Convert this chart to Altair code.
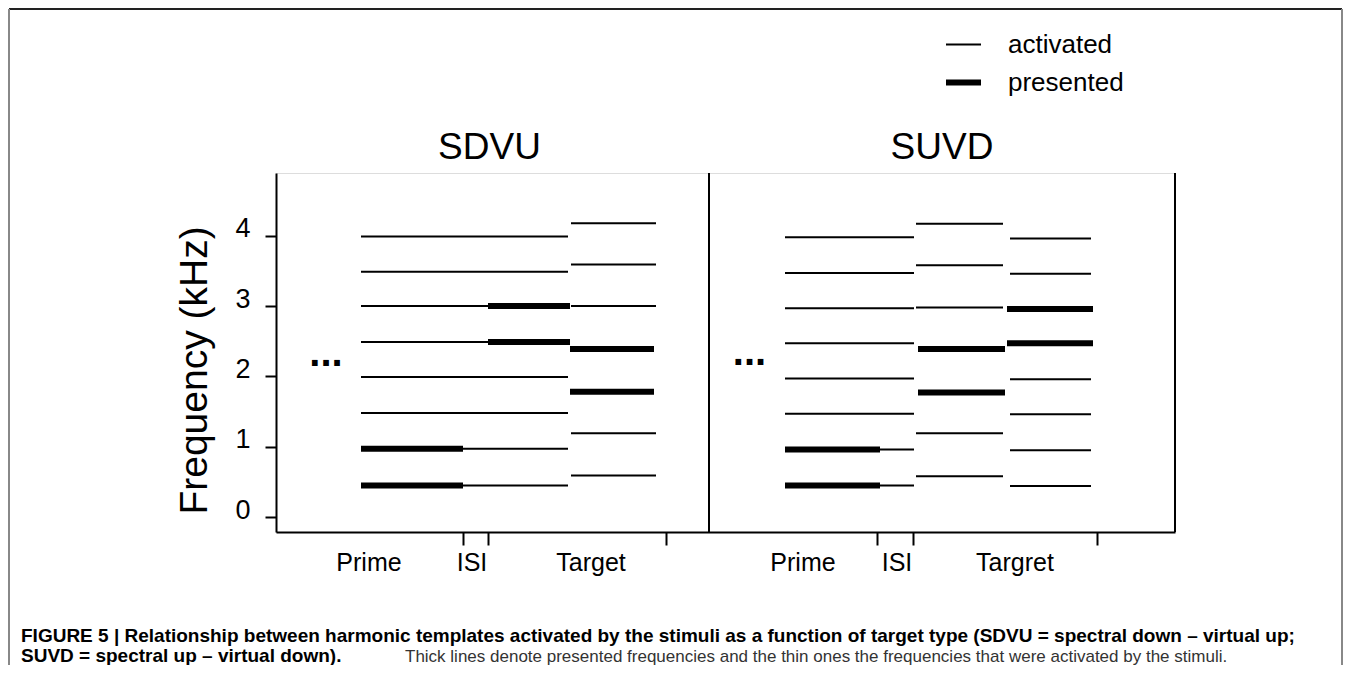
import altair as alt
import pandas as pd

FONT = "Liberation Sans"

# ---- frequency values (kHz) ----
FREQ_TICKS = [0, 1, 2, 3, 4]

# SDVU panel
L_PRIME = [0.45, 0.97, 1.48, 1.99, 2.49, 3.00, 3.49, 3.99]
L_PRIME_PRESENTED = [0.45, 0.97]
L_LATE_PRESENTED = [2.49, 3.00]
L_TARGET = [0.59, 1.19, 1.78, 2.39, 3.00, 3.59, 4.18]
L_TARGET_PRESENTED = [1.78, 2.39]

# SUVD panel
R_PRIME = [0.45, 0.96, 1.47, 1.97, 2.47, 2.97, 3.47, 3.98]
R_PRIME_PRESENTED = [0.45, 0.96]
R_MID = [0.58, 1.19, 1.77, 2.39, 2.98, 3.58, 4.17]
R_MID_PRESENTED = [1.77, 2.39]
R_TARGET = [0.44, 0.95, 1.46, 1.96, 2.47, 2.96, 3.46, 3.96]
R_TARGET_PRESENTED = [2.47, 2.96]

# ---- time positions (arbitrary schematic units) ----
L_PRIME_T = [340, 748, 848, 1168]     # onset, prime offset, ISI offset, template offset
L_LATE_T = [848, 1176]
L_TARGET_THIN_T = [1180, 1520]
L_TARGET_THICK_T = [1176, 1512]
R_PRIME_T = [2036, 2416, 2552]
R_MID_THIN_T = [2560, 2908]
R_MID_THICK_T = [2568, 2916]
R_TARGET_THIN_T = [2936, 3260]
R_TARGET_THICK_T = [2924, 3268]

X_DOMAIN = [0, 3596]
Y_DOMAIN = [-0.213, 4.893]
PANEL_BORDERS = [1732, 3596]
PHASE_TICKS = [748, 848, 1560, 2404, 2548, 3284]
PHASE_LABELS = ["Prime", "ISI", "Target", "Prime", "ISI", "Targret"]
PHASE_LABEL_T = [372, 784, 1260, 2108, 2484, 2956]
PANEL_TITLES = ["SDVU", "SUVD"]
PANEL_TITLE_T = [854, 2664]
DOTS_T = [200, 1894]
DOTS_F = [2.155, 2.165]

KINDS = ["activated", "presented"]

rows = []


def seg(f, a, b, kind):
    rows.append({"t0": a, "t1": b, "f": f, "kind": kind})


for f in L_PRIME:
    if f in L_PRIME_PRESENTED:
        seg(f, L_PRIME_T[0], L_PRIME_T[1], "presented")
        seg(f, L_PRIME_T[1], L_PRIME_T[3], "activated")
    elif f in L_LATE_PRESENTED:
        seg(f, L_PRIME_T[0], L_PRIME_T[2], "activated")
        seg(f, L_LATE_T[0], L_LATE_T[1], "presented")
    else:
        seg(f, L_PRIME_T[0], L_PRIME_T[3], "activated")
for f in L_TARGET:
    if f in L_TARGET_PRESENTED:
        seg(f, L_TARGET_THICK_T[0], L_TARGET_THICK_T[1], "presented")
    else:
        seg(f, L_TARGET_THIN_T[0], L_TARGET_THIN_T[1], "activated")
for f in R_PRIME:
    if f in R_PRIME_PRESENTED:
        seg(f, R_PRIME_T[0], R_PRIME_T[1], "presented")
        seg(f, R_PRIME_T[1], R_PRIME_T[2], "activated")
    else:
        seg(f, R_PRIME_T[0], R_PRIME_T[2], "activated")
for f in R_MID:
    if f in R_MID_PRESENTED:
        seg(f, R_MID_THICK_T[0], R_MID_THICK_T[1], "presented")
    else:
        seg(f, R_MID_THIN_T[0], R_MID_THIN_T[1], "activated")
for f in R_TARGET:
    if f in R_TARGET_PRESENTED:
        seg(f, R_TARGET_THICK_T[0], R_TARGET_THICK_T[1], "presented")
    else:
        seg(f, R_TARGET_THIN_T[0], R_TARGET_THIN_T[1], "activated")

seg_df = pd.DataFrame(rows)

xscale = alt.Scale(domain=X_DOMAIN, nice=False, zero=False)
yscale = alt.Scale(domain=Y_DOMAIN, nice=False, zero=False)

W, H = 899, 359

lines = alt.Chart(seg_df).mark_rule(color="black", strokeCap="butt").encode(
    x=alt.X("t0:Q", scale=xscale, axis=alt.Axis(
        values=PHASE_TICKS, labels=False, grid=False, tickSize=13, tickWidth=2,
        tickColor="black", domainColor="black", domainWidth=2, titleOpacity=0)),
    x2="t1:Q",
    y=alt.Y("f:Q", scale=yscale, axis=alt.Axis(
        values=FREQ_TICKS, format="d", grid=False, tickSize=11, tickWidth=2,
        tickColor="black", domainColor="black", domainWidth=2, labelFont=FONT,
        labelFontSize=27, labelColor="black", labelPadding=15,
        labelBaseline="alphabetic", labelOffset=1, title="Frequency (kHz)",
        titleFont=FONT, titleFontSize=39, titleFontWeight="normal",
        titleColor="black", titleAngle=270, titleX=-70, titleY=197,
        titleBaseline="alphabetic", titleAlign="center")),
    strokeWidth=alt.StrokeWidth("kind:O", scale=alt.Scale(domain=KINDS, range=[2, 6]),
        title=None,
        legend=alt.Legend(orient="none", legendX=667, legendY=-147, symbolType="stroke",
                          symbolSize=1225, symbolStrokeColor="black", labelFont=FONT,
                          labelFontSize=26, labelColor="black", labelOffset=24,
                          rowPadding=4, padding=0)),
)

borders = alt.Chart(pd.DataFrame({"t0": PANEL_BORDERS})).mark_rule(
    color="black", strokeWidth=2).encode(
    x="t0:Q", y=alt.value(0), y2=alt.value(H))

phase = alt.Chart(pd.DataFrame({"t0": PHASE_LABEL_T, "label": PHASE_LABELS})).mark_text(
    font=FONT, fontSize=25, color="black", baseline="alphabetic", align="center").encode(
    x="t0:Q", y=alt.value(398), text="label:N")

titles = alt.Chart(pd.DataFrame({"t0": PANEL_TITLE_T, "label": PANEL_TITLES})).mark_text(
    font=FONT, fontSize=37, color="black", baseline="alphabetic", align="center").encode(
    x="t0:Q", y=alt.value(-14), text="label:N")

dots = alt.Chart(pd.DataFrame({"t0": DOTS_T, "f": DOTS_F})).mark_text(
    font=FONT, fontSize=40, fontWeight="bold", color="black", baseline="alphabetic",
    align="center", text="...").encode(x="t0:Q", y="f:Q")

CAPTION_1 = ("FIGURE 5 | Relationship between harmonic templates activated by the stimuli "
             "as a function of target type (SDVU = spectral down \u2013 virtual up;")
CAPTION_2B = "SUVD = spectral up \u2013 virtual down)."
CAPTION_2R = ("Thick lines denote presented frequencies and the thin ones the frequencies "
              "that were activated by the stimuli.")

cap1 = alt.Chart(pd.DataFrame({"c": [CAPTION_1]})).mark_text(
    font=FONT, fontSize=19, fontWeight="bold", color="black", align="left",
    baseline="alphabetic").encode(x=alt.value(-255), y=alt.value(469), text="c:N")
cap2 = alt.Chart(pd.DataFrame({"c": [CAPTION_2B]})).mark_text(
    font=FONT, fontSize=19, fontWeight="bold", color="black", align="left",
    baseline="alphabetic").encode(x=alt.value(-255), y=alt.value(489), text="c:N")
cap3 = alt.Chart(pd.DataFrame({"c": [CAPTION_2R]})).mark_text(
    font=FONT, fontSize=17, color="#333333", align="left",
    baseline="alphabetic").encode(x=alt.value(129), y=alt.value(489), text="c:N")

frame_top = alt.Chart(pd.DataFrame({"k": [0]})).mark_rule(color="#222222", strokeWidth=2).encode(
    x=alt.value(-267), x2=alt.value(1066), y=alt.value(-164))
frame_sides = alt.Chart(pd.DataFrame({"xv": [-267, 1066]})).mark_rule(
    color="#888888", strokeWidth=2).encode(
    x=alt.X("xv:Q", scale=None), y=alt.value(-164), y2=alt.value(492))

chart = alt.layer(
    lines, borders, phase, titles, dots, cap1, cap2, cap3, frame_top, frame_sides
).properties(
    width=W, height=H,
    autosize=alt.AutoSizeParams(type="none"),
    padding={"left": 268, "top": 165, "right": 168, "bottom": 133},
).configure_view(stroke="transparent").configure(background="white")

chart.save("out.html", embed_options={"renderer": "svg", "actions": False})
